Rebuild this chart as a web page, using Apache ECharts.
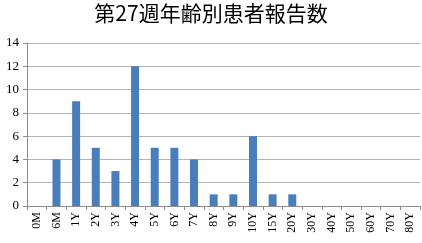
<!DOCTYPE html>
<html><head><meta charset="utf-8">
<script src="https://cdn.jsdelivr.net/npm/echarts@6/dist/echarts.min.js"></script>
<style>html,body{margin:0;padding:0;background:#fff}#c{width:422px;height:243px}</style>
</head><body><div id="c"></div>
<script>
const title = "第27週年齢別患者報告数";
const categories = ["0M","6M","1Y","2Y","3Y","4Y","5Y","6Y","7Y","8Y","9Y","10Y","15Y","20Y","30Y","40Y","50Y","60Y","70Y","80Y"];
const values = [0,4,9,5,3,12,5,5,4,1,1,6,1,1,0,0,0,0,0,0];
const font = "'Liberation Serif','DejaVu Serif',serif";
const chart = echarts.init(document.getElementById('c'), null, {renderer:'canvas'});
chart.setOption({
  animation:false,
  title:{text:title,left:'center',top:-2,textStyle:{fontFamily:"'Noto Sans CJK JP',serif",fontSize:21,fontWeight:'normal',color:'#000'}},
  grid:{left:27,right:2,top:43,bottom:37,containLabel:false},
  xAxis:{type:'category',data:categories,
    axisLine:{lineStyle:{color:'#8c8c8c'}},
    axisTick:{show:true,alignWithLabel:false,length:4,lineStyle:{color:'#8c8c8c'}},
    axisLabel:{rotate:90,interval:0,fontFamily:font,fontSize:12,color:'#000',margin:6}},
  yAxis:{type:'value',min:0,max:14,interval:2,
    axisLine:{show:true,lineStyle:{color:'#8c8c8c'}},
    axisTick:{show:true,length:4,lineStyle:{color:'#8c8c8c'}},
    splitLine:{lineStyle:{color:'#b3b3b3'}},
    axisLabel:{fontFamily:font,fontSize:13,color:'#000',margin:8}},
  series:[{type:'bar',data:values.map(v => v === 0 ? null : v),barWidth:8,
    itemStyle:{color:'#4a7ebb'}}]
});
</script></body></html>
